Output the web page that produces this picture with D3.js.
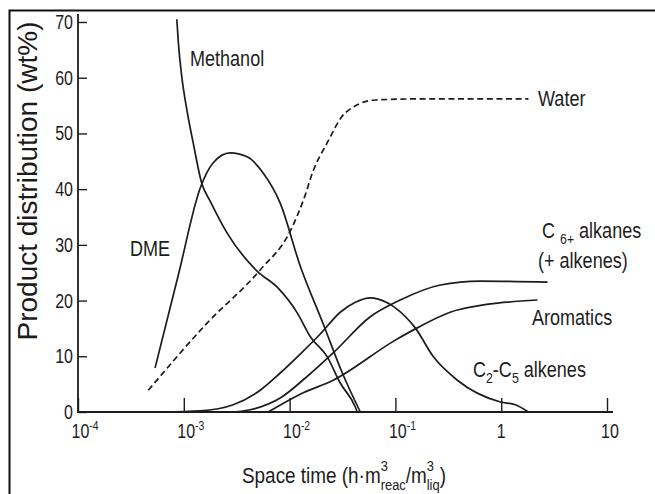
<!DOCTYPE html>
<html><head><meta charset="utf-8">
<script src="https://cdn.jsdelivr.net/npm/d3@7"></script>
<style>
body{margin:0;background:#fff}
svg{display:block}
text{font-family:'Liberation Sans',Arial,Helvetica,sans-serif;fill:#1c1c1c}
</style>
</head><body>
<svg id="c" width="655" height="494"></svg>
<script>
// ---- data ----
const xTicks = [1e-4, 1e-3, 1e-2, 1e-1, 1, 10];
const xTickBase = ["10", "10", "10", "10", "1", "10"];
const xTickExp = ["-4", "-3", "-2", "-1", "", ""];
const yTicks = [0, 10, 20, 30, 40, 50, 60, 70];

const methanol = [[8.59e-4,70.5],[8.89e-4,66.2],[9.57e-4,60.2],[1.07e-3,54.2],[1.23e-3,48.2],[1.48e-3,41.0],[1.77e-3,37.9],[2.57e-3,32.1],[4.93e-3,25.3],[7.64e-3,22.4],[0.0118,17.8],[0.0157,13.5],[0.0227,9.9],[0.0301,5.2],[0.0418,0.9],[0.0436,0]];
const dme = [[5.35e-4,7.9],[8.83e-4,24.4],[1.43e-3,40.2],[1.89e-3,44.7],[2.74e-3,46.5],[3.97e-3,45.8],[5.62e-3,42.9],[8.15e-3,37.5],[0.0126,26.2],[0.0208,15.8],[0.0315,7.0],[0.0466,0]];
const water = [[4.62e-4,3.9],[1.65e-3,15.9],[5.27e-3,25.5],[0.0101,32.4],[0.01355,38.1],[0.0168,43.4],[0.0225,48.2],[0.0336,53.7],[0.0645,56.0],[0.172,56.2],[1.81,56.2]];
const c2c5Alkenes = [[6.23e-4,0],[1.43e-3,0.2],[2.93e-3,1.3],[5.27e-3,3.9],[8.15e-3,7.0],[0.0126,10.4],[0.0195,14.0],[0.0301,17.9],[0.0418,19.7],[0.0579,20.5],[0.0838,19.6],[0.0998,18.7],[0.154,15.1],[0.229,9.9],[0.385,5.7],[0.982,1.8],[1.36,1.3],[1.81,0]];
const c6Alkanes = [[2.93e-3,0],[4.24e-3,0.4],[8.15e-3,2.5],[0.0141,6.1],[0.0258,10.6],[0.0579,17.1],[0.111,20.1],[0.266,22.8],[0.635,23.5],[2.74,23.3]];
const aromatics = [[6.28e-3,0],[0.0126,3.2],[0.0258,5.7],[0.0998,12.9],[0.161,15.1],[0.385,18.3],[2.2,20.1]];

// ---- drawing ----
const svg = d3.select("#c");
const INK = "#1c1c1c";
const SX = 0.82;

const x = d3.scaleLog().domain([1e-4, 10]).range([78, 607]);
const y = d3.scaleLinear().domain([0, 70]).range([412, 22]);

// frame
svg.append("path").attr("d", "M9.5,494V10.5H655")
  .attr("fill", "none").attr("stroke", "#111").attr("stroke-width", 2);

// axes
const gx = svg.append("g").attr("transform", `translate(0,${y(0)})`)
  .call(d3.axisBottom(x).tickValues(xTicks).tickSize(-14).tickSizeOuter(0).tickFormat(""));
const gy = svg.append("g").attr("transform", `translate(${x(1e-4)},0)`)
  .call(d3.axisLeft(y).tickValues(yTicks).tickSize(-9).tickSizeOuter(0).tickFormat(""));
[gx, gy].forEach(g => {
  g.select(".domain").remove();
  g.selectAll(".tick line").attr("stroke", INK).attr("stroke-width", 1.4);
});
svg.append("path")
  .attr("d", `M${x(1e-4)},14V${y(0)}H613`)
  .attr("fill", "none").attr("stroke", INK).attr("stroke-width", 1.8);

// text helper (horizontally condensed text)
function label(px, py, size, anchor, build, sx = SX) {
  const g = svg.append("g").attr("transform", `translate(${px},${py}) scale(${sx},1)`);
  const t = g.append("text").attr("font-size", size).attr("text-anchor", anchor);
  build(t);
  return t;
}

// y tick labels
yTicks.forEach(v => label(73, y(v) + 7, 20, "end", t => t.text(v), 0.8));

// x tick labels
xTicks.forEach((v, i) => {
  if (xTickExp[i]) {
    label(x(v) - 6.5, 438, 20, "start", t => {
      t.append("tspan").text(xTickBase[i]);
      t.append("tspan").attr("font-size", 13).attr("dy", -8).text(xTickExp[i]);
    }, 0.8);
  } else {
    label(x(v) + (xTickBase[i] === "10" ? 3 : 0), 438, 20, "middle", t => t.text(xTickBase[i]), 0.8);
  }
});

// axis titles
svg.append("text")
  .attr("transform", "translate(37,181) rotate(-90)")
  .attr("text-anchor", "middle").attr("font-size", 28)
  .text("Product distribution (wt%)");

// x title: main text plus stacked super/subscripts as separate pieces
const xt = svg.append("g").attr("transform", "translate(242,483) scale(0.86,1)");
const xtMain1 = xt.append("text").attr("font-size", 22).text("Space time (h\u00b7m");
const w1 = xtMain1.node().getComputedTextLength();
xt.append("text").attr("font-size", 15).attr("x", w1).attr("y", -12).text("3");
const sub1 = xt.append("text").attr("font-size", 15).attr("x", w1).attr("y", 7).text("reac");
const w2 = w1 + sub1.node().getComputedTextLength();
const xtMain2 = xt.append("text").attr("font-size", 22).attr("x", w2).text("/m");
const w3 = w2 + xtMain2.node().getComputedTextLength();
xt.append("text").attr("font-size", 15).attr("x", w3).attr("y", -12).text("3");
const sub2 = xt.append("text").attr("font-size", 15).attr("x", w3).attr("y", 7).text("liq");
const w4 = w3 + sub2.node().getComputedTextLength();
xt.append("text").attr("font-size", 22).attr("x", w4).text(")");

// series
const line = d3.line().x(d => x(d[0])).y(d => y(d[1])).curve(d3.curveMonotoneX);
[[methanol, null], [dme, null], [c2c5Alkenes, null], [c6Alkanes, null], [aromatics, null], [water, "6,3.6"]]
  .forEach(([data, dash]) => {
    svg.append("path").datum(data).attr("d", line)
      .attr("fill", "none").attr("stroke", INK).attr("stroke-width", 1.7)
      .attr("stroke-dasharray", dash);
  });

// curve labels
label(190, 66, 22, "start", t => t.text("Methanol"));
label(130, 256, 22, "start", t => t.text("DME"));
label(538, 106, 22, "start", t => t.text("Water"));
label(542, 238, 22, "start", t => {
  t.append("tspan").text("C ");
  t.append("tspan").attr("font-size", 15).attr("dy", 6).text("6+");
  t.append("tspan").attr("dy", -6).text(" alkanes");
});
label(538, 268, 22, "start", t => t.text("(+ alkenes)"));
label(532, 325, 22, "start", t => t.text("Aromatics"));
label(473, 377, 22, "start", t => {
  t.append("tspan").text("C");
  t.append("tspan").attr("font-size", 15).attr("dy", 6).text("2");
  t.append("tspan").attr("dy", -6).text("-C");
  t.append("tspan").attr("font-size", 15).attr("dy", 6).text("5");
  t.append("tspan").attr("dy", -6).text(" alkenes");
});
</script>
</body></html>
